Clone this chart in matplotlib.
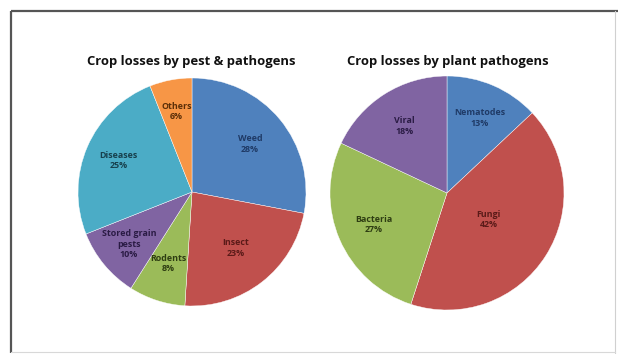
import matplotlib
matplotlib.use("Agg")
import matplotlib.pyplot as plt
import numpy as np

# Data
left_title = "Crop losses by pest & pathogens"
left_labels = ["Weed", "Insect", "Rodents", "Stored grain\npests", "Diseases", "Others"]
left_values = [28, 23, 8, 10, 25, 6]

right_title = "Crop losses by plant pathogens"
right_labels = ["Nematodes", "Fungi", "Bacteria", "Viral"]
right_values = [13, 42, 27, 18]

# Styles
left_colors = ["#4F81BD", "#C0504D", "#9BBB59", "#8064A2", "#4BACC6", "#F79646"]
left_text = ["#1F3A66", "#5A1A18", "#2E3D12", "#2A1B44", "#17404D", "#5A2E08"]
right_colors = ["#4F81BD", "#C0504D", "#9BBB59", "#8064A2"]
right_text = ["#1F3A66", "#5A1A18", "#2E3D12", "#2A1B44"]
left_dist = [0.66, 0.62, 0.66, 0.72, 0.70, 0.72]
right_dist = [0.70, 0.42, 0.68, 0.68]

W, H = 619, 354
fig = plt.figure(figsize=(W / 100, H / 100), dpi=100)
ax = fig.add_axes([0, 0, 1, 1])
ax.set_xlim(0, W)
ax.set_ylim(0, H)
ax.set_aspect("equal")
ax.axis("off")

FONT = ["Open Sans", "DejaVu Sans"]


def draw_pie(values, labels, colors, tcolors, dists, center, radius, title, title_xy):
    wedges, _ = ax.pie(values, colors=colors, startangle=90, counterclock=False,
                       center=center, radius=radius,
                       wedgeprops=dict(edgecolor="white", linewidth=0.3))
    total = float(sum(values))
    for w, lab, v, tc, d in zip(wedges, labels, values, tcolors, dists):
        ang = np.deg2rad((w.theta1 + w.theta2) / 2)
        x = center[0] + d * radius * np.cos(ang)
        y = center[1] + d * radius * np.sin(ang)
        ax.text(x, y, f"{lab}\n{round(100 * v / total)}%", ha="center", va="center",
                fontsize=6.4, fontweight="bold", color=tc, family=FONT,
                linespacing=1.2)
    ax.text(title_xy[0], title_xy[1], title, ha="center", va="center",
            fontsize=9.4, fontweight="bold", color="#111111", family=FONT)


draw_pie(left_values, left_labels, left_colors, left_text, left_dist,
         (192, H - 192), 114, left_title, (191, H - 62))
draw_pie(right_values, right_labels, right_colors, right_text, right_dist,
         (447, H - 193), 117, right_title, (448, H - 62))

ax.set_xlim(0, W)
ax.set_ylim(0, H)

# frame border
ax.plot([11, 11], [H - 353, H - 11], color="#555555", lw=1.6, solid_capstyle="butt")
ax.plot([11, 618], [H - 11, H - 11], color="#555555", lw=1.6, solid_capstyle="butt")
ax.plot([615, 615], [H - 353, H - 11], color="#d0d0d0", lw=0.8)
ax.plot([11, 615], [H - 352, H - 352], color="#d8d8d8", lw=0.8)

fig.savefig("out.png", dpi=100)
